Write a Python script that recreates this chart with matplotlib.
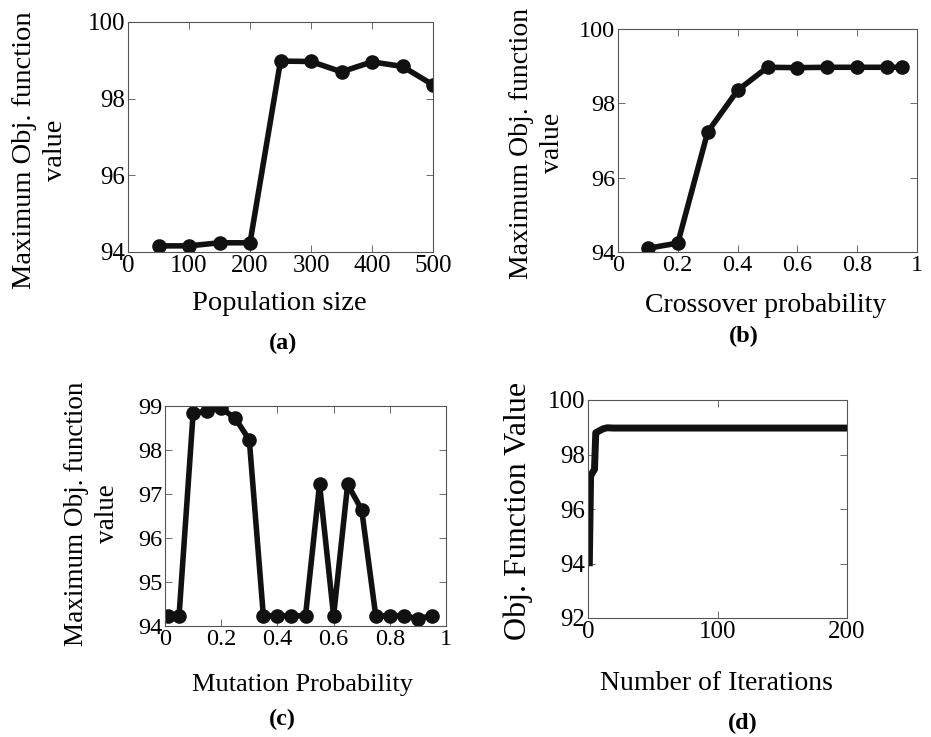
import matplotlib
matplotlib.use('Agg')
import matplotlib.pyplot as plt
import numpy as np

matplotlib.rcParams['font.family'] = 'Liberation Serif'

# (a) population size
pop_size = [50, 100, 150, 200, 250, 300, 350, 400, 450, 500]
pop_val = [94.16, 94.16, 94.24, 94.24, 98.98, 98.97, 98.70, 98.96, 98.84, 98.36]

# (b) crossover probability
cross_p = [0.1, 0.2, 0.3, 0.4, 0.5, 0.6, 0.7, 0.8, 0.9, 0.95]
cross_val = [94.10, 94.24, 97.23, 98.35, 98.97, 98.96, 98.97, 98.97, 98.97, 98.97]

# (c) mutation probability
mut_p = [0.01, 0.05, 0.1, 0.15, 0.2, 0.25, 0.3, 0.35, 0.4, 0.45,
         0.5, 0.55, 0.6, 0.65, 0.7, 0.75, 0.8, 0.85, 0.9, 0.95]
mut_val = [94.23, 94.23, 98.83, 98.89, 98.95, 98.72, 98.23, 94.23, 94.23, 94.23,
           94.23, 97.22, 94.23, 97.22, 96.64, 94.23, 94.23, 94.23, 94.17, 94.23]

# (d) convergence
iters = [1, 2, 3, 5, 6, 8, 10, 12, 15, 20, 200]
iter_val = [93.9, 97.2, 97.3, 97.45, 98.8, 98.85, 98.9, 98.95, 98.98, 98.97, 98.97]

W, H = 931, 737
fig = plt.figure(figsize=(W / 100, H / 100), dpi=100)


def px_axes(x0, y0, x1, y1):
    return fig.add_axes([x0 / W, 1 - y1 / H, (x1 - x0) / W, (y1 - y0) / H])


def style(ax, fs):
    ax.tick_params(direction='in', top=True, right=True, length=5, width=0.6,
                   labelsize=fs, pad=2, color='#555555')
    for s in ax.spines.values():
        s.set_linewidth(0.8)
        s.set_color('#555555')


def ftext(x, y, s, **kw):
    fig.text(x / W, 1 - y / H, s, ha='center', va='center', **kw)


mk = dict(color='#111111', linewidth=4, marker='o', markersize=9.5,
          markerfacecolor='#111111', markeredgecolor='#111111')
ylab = 'Maximum Obj. function\nvalue'

ax = px_axes(128, 22, 433, 252)
ax.plot(pop_size, pop_val, **mk)
ax.set_xlim(0, 500)
ax.set_ylim(94, 100)
ax.set_xticks([0, 100, 200, 300, 400, 500])
ax.set_yticks([94, 96, 98, 100])
style(ax, 18)
ftext(40, 150, ylab, rotation=90, fontsize=20.5, multialignment='center', linespacing=1.3)
ftext(279, 304, 'Population size', fontsize=20.5)
ftext(283, 343, '(a)', fontsize=17.5, weight='bold')

ax = px_axes(618, 29, 917, 252)
ax.plot(cross_p, cross_val, **mk)
ax.set_xlim(0, 1)
ax.set_ylim(94, 100)
ax.set_xticks([0, 0.2, 0.4, 0.6, 0.8, 1])
ax.set_xticklabels(['0', '0.2', '0.4', '0.6', '0.8', '1'])
ax.set_yticks([94, 96, 98, 100])
style(ax, 17.5)
ftext(537, 143, ylab, rotation=90, fontsize=20, multialignment='center', linespacing=1.3)
ftext(766, 306, 'Crossover probability', fontsize=20)
ftext(744, 336, '(b)', fontsize=17.5, weight='bold')

ax = px_axes(165, 406, 446, 626)
ax.plot(mut_p, mut_val, **mk)
ax.set_xlim(0, 1)
ax.set_ylim(94, 99)
ax.set_xticks([0, 0.2, 0.4, 0.6, 0.8, 1])
ax.set_xticklabels(['0', '0.2', '0.4', '0.6', '0.8', '1'])
ax.set_yticks([94, 95, 96, 97, 98, 99])
style(ax, 17.5)
ftext(92, 514, ylab, rotation=90, fontsize=19.5, multialignment='center', linespacing=1.3)
ftext(303, 685, 'Mutation Probability', fontsize=19)
ftext(282, 719, '(c)', fontsize=17.5, weight='bold')

ax = px_axes(588, 400, 847, 618)
ax.plot(iters, iter_val, color='#111111', linewidth=5, solid_capstyle='butt')
ax.set_xlim(0, 200)
ax.set_ylim(92, 100)
ax.set_xticks([0, 100, 200])
ax.set_yticks([92, 94, 96, 98, 100])
style(ax, 18)
ftext(518, 511, 'Obj. Function Value', rotation=90, fontsize=23)
ftext(716, 683, 'Number of Iterations', fontsize=20)
ftext(743, 723, '(d)', fontsize=17.5, weight='bold')

fig.savefig('out.png', dpi=100)
